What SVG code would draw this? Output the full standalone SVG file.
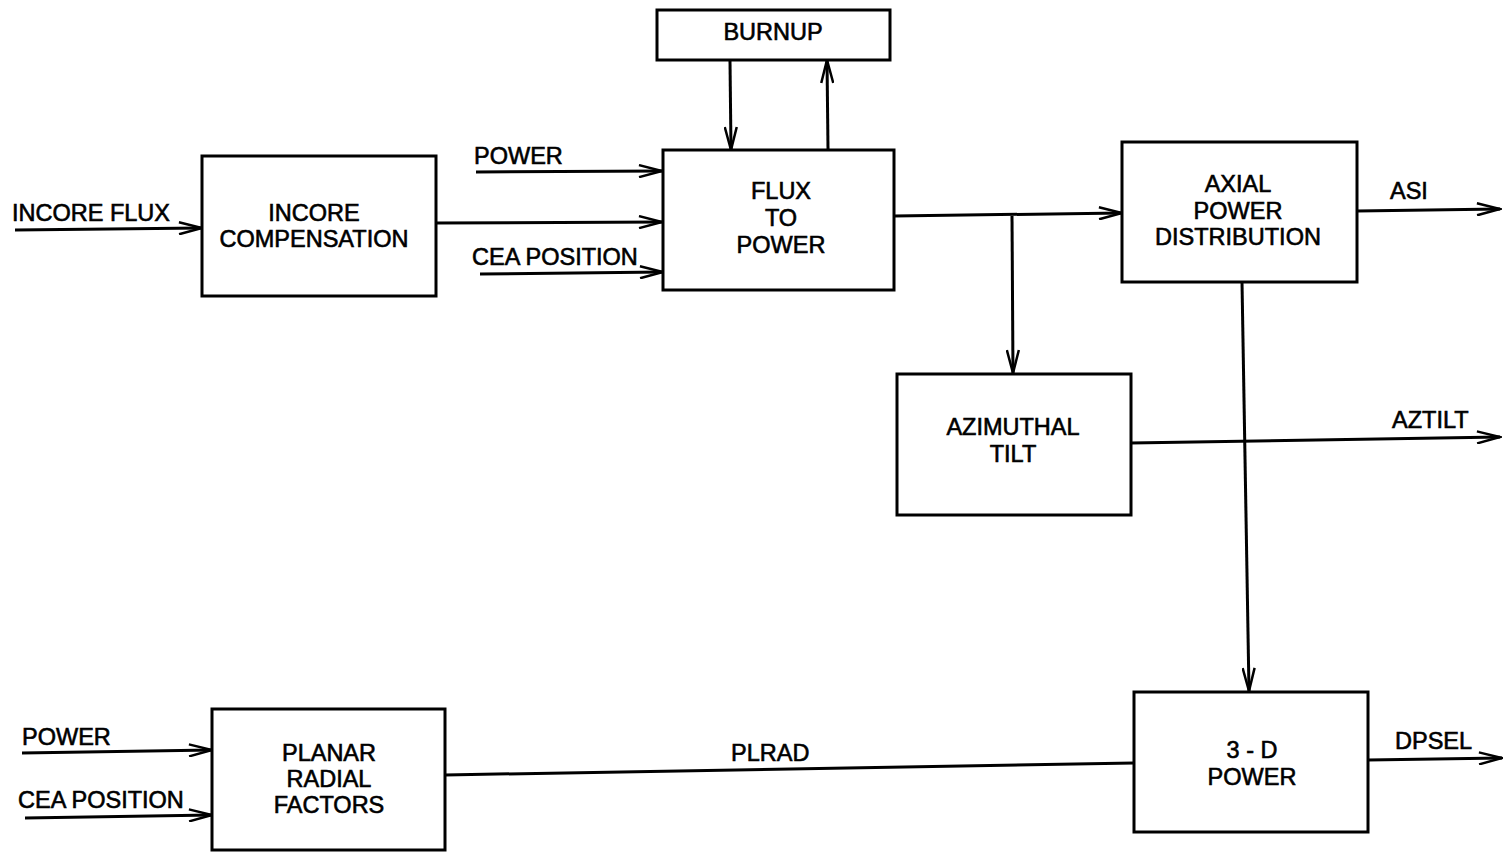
<svg xmlns="http://www.w3.org/2000/svg" width="1503" height="852" viewBox="0 0 1503 852">
<style>
.box{fill:#fff;stroke:#000;stroke-width:3}
.ln{fill:none;stroke:#000;stroke-width:3}
text{font-family:"Liberation Sans",Arial,sans-serif;font-size:23.5px;fill:#000;stroke:#000;stroke-width:0.6}
.c{text-anchor:middle}
</style>
<defs>
<marker id="ah" markerWidth="26" markerHeight="14" refX="24" refY="7" orient="auto" markerUnits="userSpaceOnUse">
<path d="M1,1 L24,7 L1,13" fill="none" stroke="#000" stroke-width="2.5"/>
</marker>
</defs>
<rect width="1503" height="852" fill="#fff"/>
<g id="connectors">
<line class="ln" x1="15" y1="230" x2="202" y2="228" marker-end="url(#ah)"/>
<line class="ln" x1="436" y1="223" x2="662" y2="222" marker-end="url(#ah)"/>
<line class="ln" x1="476" y1="172" x2="662" y2="171" marker-end="url(#ah)"/>
<line class="ln" x1="480" y1="274" x2="663" y2="272" marker-end="url(#ah)"/>
<line class="ln" x1="730" y1="61" x2="731" y2="150" marker-end="url(#ah)"/>
<line class="ln" x1="828" y1="149" x2="827" y2="60" marker-end="url(#ah)"/>
<line class="ln" x1="894" y1="216" x2="1122" y2="213" marker-end="url(#ah)"/>
<line class="ln" x1="1012" y1="216" x2="1013" y2="373" marker-end="url(#ah)"/>
<line class="ln" x1="1357" y1="211" x2="1500" y2="209" marker-end="url(#ah)"/>
<line class="ln" x1="1131" y1="443" x2="1500" y2="437" marker-end="url(#ah)"/>
<line class="ln" x1="1242" y1="282" x2="1249" y2="691" marker-end="url(#ah)"/>
<line class="ln" x1="445" y1="775" x2="1134" y2="763"/>
<line class="ln" x1="1368" y1="760" x2="1502" y2="758" marker-end="url(#ah)"/>
<line class="ln" x1="22" y1="753" x2="212" y2="750" marker-end="url(#ah)"/>
<line class="ln" x1="25" y1="818" x2="212" y2="815" marker-end="url(#ah)"/>
<text x="12" y="221">INCORE FLUX</text>
<text x="474" y="164">POWER</text>
<text x="472" y="265">CEA POSITION</text>
<text x="1390" y="199">ASI</text>
<text x="1392" y="428">AZTILT</text>
<text x="731" y="761">PLRAD</text>
<text x="1395" y="749">DPSEL</text>
<text x="22" y="745">POWER</text>
<text x="18" y="808">CEA POSITION</text>
</g>
<g id="incore-compensation">
<rect class="box" x="202" y="156" width="234" height="140"/>
<text class="c" x="314" y="221">INCORE</text>
<text class="c" x="314" y="247">COMPENSATION</text>
</g>
<g id="burnup">
<rect class="box" x="657" y="10" width="233" height="50"/>
<text class="c" x="773" y="40">BURNUP</text>
</g>
<g id="flux-to-power">
<rect class="box" x="663" y="150" width="231" height="140"/>
<text class="c" x="781" y="199">FLUX</text>
<text class="c" x="781" y="226">TO</text>
<text class="c" x="781" y="253">POWER</text>
</g>
<g id="axial-power-distribution">
<rect class="box" x="1122" y="142" width="235" height="140"/>
<text class="c" x="1238" y="192">AXIAL</text>
<text class="c" x="1238" y="219">POWER</text>
<text class="c" x="1238" y="245">DISTRIBUTION</text>
</g>
<g id="azimuthal-tilt">
<rect class="box" x="897" y="374" width="234" height="141"/>
<text class="c" x="1013" y="435">AZIMUTHAL</text>
<text class="c" x="1013" y="462">TILT</text>
</g>
<g id="three-d-power">
<rect class="box" x="1134" y="692" width="234" height="140"/>
<text class="c" x="1252" y="758">3 - D</text>
<text class="c" x="1252" y="785">POWER</text>
</g>
<g id="planar-radial-factors">
<rect class="box" x="212" y="709" width="233" height="141"/>
<text class="c" x="329" y="761">PLANAR</text>
<text class="c" x="329" y="787">RADIAL</text>
<text class="c" x="329" y="813">FACTORS</text>
</g>
</svg>
